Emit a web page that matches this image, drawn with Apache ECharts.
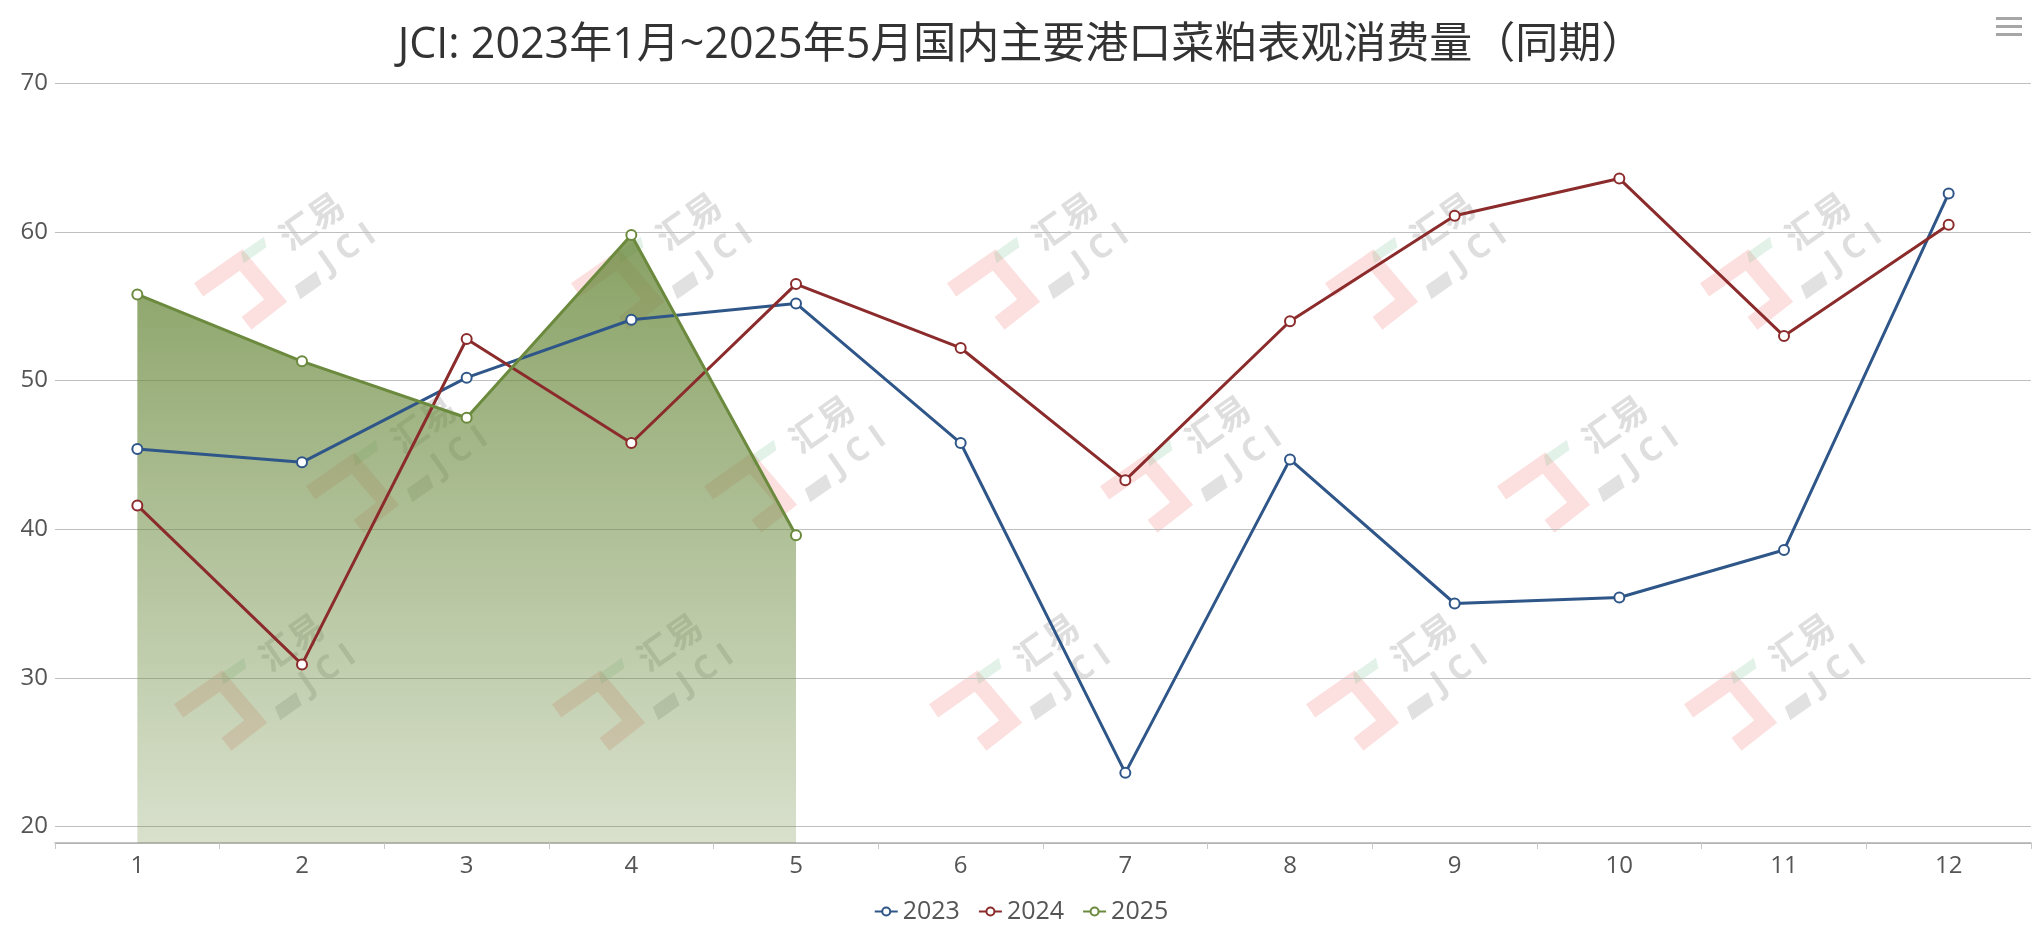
<!DOCTYPE html>
<html>
<head>
<meta charset="utf-8">
<title>JCI 菜粕表观消费量</title>
<script src="https://cdn.jsdelivr.net/npm/echarts@6.0.0/dist/echarts.min.js"></script>
<style>
  html, body { margin: 0; padding: 0; background: #fff; }
  #main { width: 2042px; height: 940px; }
</style>
</head>
<body>
<div id="main"></div>
<script>
// 月份 & 各年数据（万吨）
const months = ['1', '2', '3', '4', '5', '6', '7', '8', '9', '10', '11', '12'];
const legendNames = ['2023', '2024', '2025'];
const data2023 = [45.4, 44.5, 50.2, 54.1, 55.2, 45.8, 23.6, 44.7, 35.0, 35.4, 38.6, 62.6];
const data2024 = [41.6, 30.9, 52.8, 45.8, 56.5, 52.2, 43.3, 54.0, 61.1, 63.6, 53.0, 60.5];
const data2025 = [55.8, 51.3, 47.5, 59.8, 39.6];

const FONT = "'Open Sans', 'Noto Sans CJK SC', sans-serif";
const colors = ['#2f5688', '#8b2b2b', '#6b8a3e'];

// 水印（汇易 JCI）的位置，仅装饰
const markSpots = [
  [290, 260], [667, 260], [1043, 260], [1421, 260], [1796, 260],
  [402, 463], [800, 463], [1196, 463], [1593, 463],
  [270, 681], [648, 681], [1025, 681], [1402, 681], [1780, 681]
];

function watermark(p) {
  return {
    type: 'group',
    x: p[0],
    y: p[1],
    rotation: 35 * Math.PI / 180,
    silent: true,
    z: 0,
    children: [
      {
        type: 'polyline',
        shape: { points: [[-92, -28], [-40, -28], [-35, 25], [-72, 27]] },
        style: { stroke: 'rgba(240,70,70,0.17)', lineWidth: 16, fill: null, lineJoin: 'miter' }
      },
      {
        type: 'polygon',
        shape: { points: [[-40, -24], [-12, -24], [-8, -34], [-36, -34]] },
        style: { fill: 'rgba(60,160,90,0.14)' }
      },
      {
        type: 'polygon',
        shape: { points: [[-14, 38], [12, 38], [15, 24], [-11, 24]] },
        style: { fill: 'rgba(90,90,90,0.18)' }
      },
      {
        type: 'text',
        x: 40, y: -20,
        style: { text: '汇易', fontSize: 35, fontWeight: 'bold', fontFamily: 'Noto Sans CJK SC',
                 fill: 'rgba(90,90,90,0.2)', align: 'center', verticalAlign: 'middle' }
      },
      {
        type: 'text',
        x: 54, y: 24,
        style: { text: 'J C I', fontSize: 33, fontWeight: 'bold', fontFamily: FONT,
                 fill: 'rgba(90,90,90,0.2)', align: 'center', verticalAlign: 'middle' }
      }
    ]
  };
}

const chart = echarts.init(document.getElementById('main'));

const option = {
  backgroundColor: '#fff',
  color: colors,
  animation: false,
  textStyle: { fontFamily: FONT },
  title: {
    text: 'JCI: 2023年1月~2025年5月国内主要港口菜粕表观消费量（同期）',
    left: 'center',
    top: 19,
    textStyle: { fontSize: 43, fontWeight: 'normal', color: '#333', fontFamily: FONT }
  },
  legend: {
    data: legendNames,
    bottom: 11,
    left: 'center',
    itemWidth: 23,
    itemHeight: 10,
    itemGap: 18,
    textStyle: { fontSize: 25, color: '#555', fontFamily: FONT }
  },
  graphic: markSpots.map(watermark).concat([
    { type: 'rect', right: 20, top: 17, shape: { width: 26, height: 3 }, style: { fill: '#a6a6a6' } },
    { type: 'rect', right: 20, top: 25, shape: { width: 26, height: 3 }, style: { fill: '#a6a6a6' } },
    { type: 'rect', right: 20, top: 33, shape: { width: 26, height: 3 }, style: { fill: '#a6a6a6' } }
  ]),
  grid: {
    left: 55,
    right: 11,
    top: 83.5,
    bottom: 97
  },
  xAxis: {
    type: 'category',
    data: months,
    boundaryGap: true,
    axisLine: { lineStyle: { color: '#b0b0b0', width: 1.5 } },
    axisTick: { show: true, length: 6, lineStyle: { color: '#c8c8c8' } },
    axisLabel: { fontSize: 24, color: '#555', margin: 11, fontFamily: FONT },
    splitLine: { show: false }
  },
  yAxis: {
    type: 'value',
    min: function (v) { return +(v.min * 0.8).toFixed(2); },
    max: 70,
    axisLine: { show: false },
    axisTick: { show: false },
    axisLabel: { fontSize: 24, color: '#555', margin: 7, showMinLabel: false, fontFamily: FONT },
    splitLine: { lineStyle: { color: '#bfbfbf', width: 1 } }
  },
  series: [
    {
      name: '2023',
      type: 'line',
      data: data2023,
      symbol: 'emptyCircle',
      symbolSize: 10,
      lineStyle: { width: 3, color: colors[0] },
      itemStyle: { color: colors[0], borderWidth: 2.5 }
    },
    {
      name: '2024',
      type: 'line',
      data: data2024,
      symbol: 'emptyCircle',
      symbolSize: 10,
      lineStyle: { width: 3, color: colors[1] },
      itemStyle: { color: colors[1], borderWidth: 2.5 }
    },
    {
      name: '2025',
      type: 'line',
      data: data2025,
      symbol: 'emptyCircle',
      symbolSize: 10,
      lineStyle: { width: 3, color: colors[2] },
      itemStyle: { color: colors[2], borderWidth: 2.5 },
      areaStyle: {
        opacity: 1,
        color: new echarts.graphic.LinearGradient(0, 0, 0, 1, [
          { offset: 0, color: 'rgba(107,138,62,0.80)' },
          { offset: 1, color: 'rgba(107,138,62,0.26)' }
        ])
      }
    }
  ]
};

chart.setOption(option);
</script>
</body>
</html>
